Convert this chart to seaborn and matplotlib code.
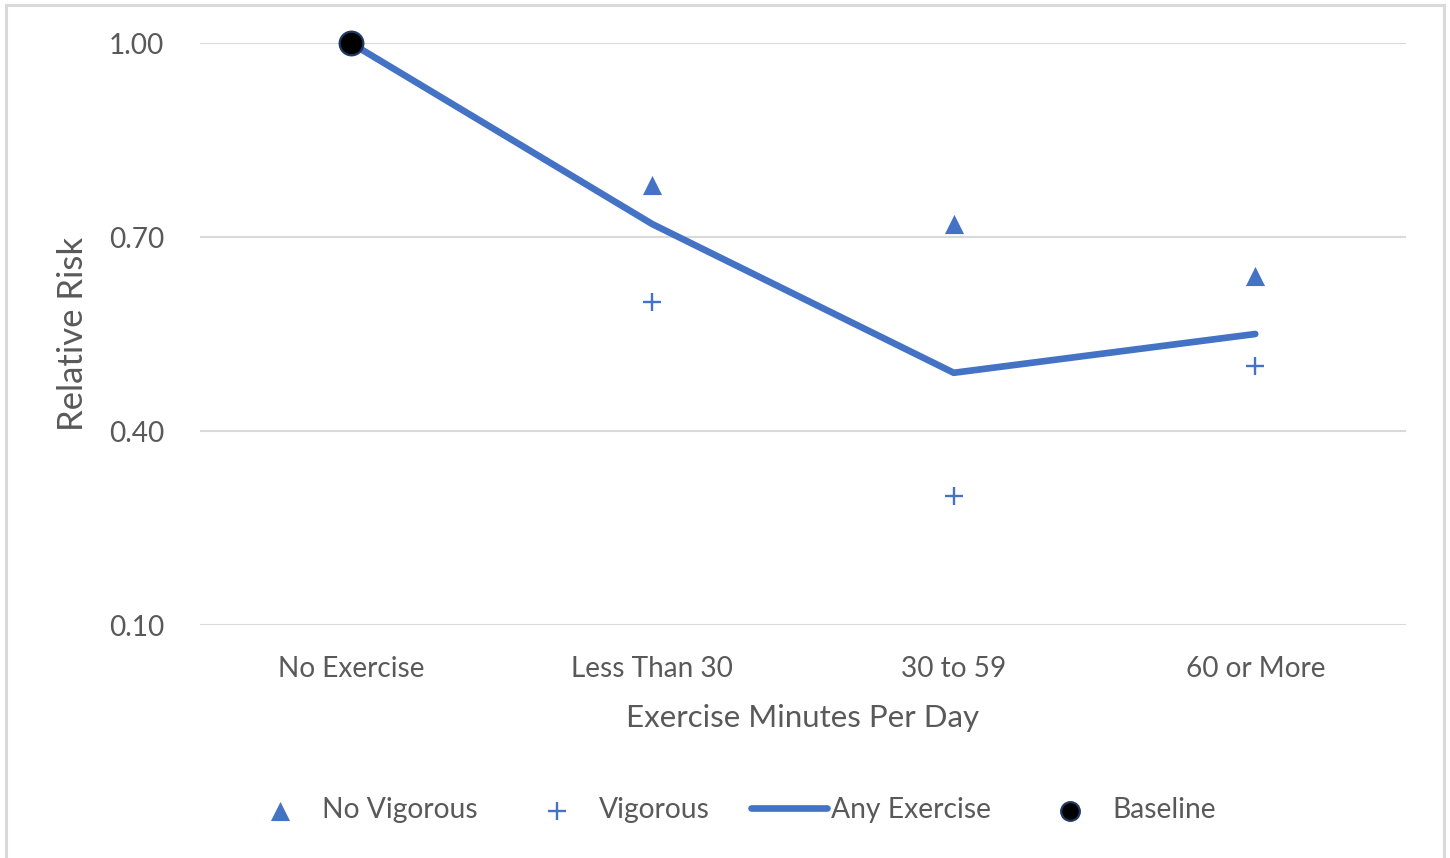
import matplotlib
matplotlib.use("Agg")
import matplotlib.pyplot as plt
from matplotlib.patches import Rectangle
import seaborn as sns
import pandas as pd

# Exercise categories and relative risk values
categories = ["No Exercise", "Less Than 30", "30 to 59", "60 or More"]
any_exercise = [1.00, 0.72, 0.49, 0.55]
no_vigorous_cats = ["Less Than 30", "30 to 59", "60 or More"]
no_vigorous = [0.78, 0.72, 0.64]
vigorous_cats = ["Less Than 30", "30 to 59", "60 or More"]
vigorous = [0.60, 0.30, 0.50]
baseline_cats = ["No Exercise"]
baseline = [1.00]
y_ticks = [0.10, 0.40, 0.70, 1.00]

blue = "#4472C4"
grid_grey = "#D9D9D9"
text_grey = "#595959"

sns.set_theme(style="white")
plt.rcParams["font.family"] = ["Lato", "DejaVu Sans"]

fig = plt.figure(figsize=(14.5, 8.58), dpi=100)
ax = fig.add_axes([200 / 1450, 1 - 625 / 858, 1206 / 1450, 582 / 858])

line_df = pd.DataFrame({"cat": categories, "rr": any_exercise})
nv_df = pd.DataFrame({"cat": no_vigorous_cats, "rr": no_vigorous})
v_df = pd.DataFrame({"cat": vigorous_cats, "rr": vigorous})
b_df = pd.DataFrame({"cat": baseline_cats, "rr": baseline})

sns.lineplot(data=line_df, x="cat", y="rr", ax=ax, color=blue, lw=4.8,
             solid_capstyle="round", label="Any Exercise", clip_on=False, zorder=3, sort=False)
sns.scatterplot(data=nv_df, x="cat", y="rr", ax=ax, marker="^", s=190, color=blue,
                edgecolor=blue, linewidth=0, label="No Vigorous", clip_on=False, zorder=4)
sns.scatterplot(data=v_df, x="cat", y="rr", ax=ax, marker="+", s=160, color=blue,
                linewidth=1.7, label="Vigorous", clip_on=False, zorder=4)
sns.scatterplot(data=b_df, x="cat", y="rr", ax=ax, marker="o", s=290, color="black",
                edgecolor="#1F3864", linewidth=1.6, label="Baseline", clip_on=False, zorder=5)

ax.set_xlim(-0.5, len(categories) - 0.5)
ax.set_ylim(0.10, 1.00)
ax.set_yticks(y_ticks)
ax.set_yticklabels([f"{v:.2f}" for v in y_ticks])
ax.yaxis.grid(True, color=grid_grey, lw=1.5)
ax.xaxis.grid(False)
for s in ax.spines.values():
    s.set_visible(False)
ax.tick_params(axis="y", length=0, pad=26, labelsize=20.2, labelcolor=text_grey)
ax.tick_params(axis="x", length=0, pad=22, labelsize=20.2, labelcolor=text_grey)

ax.set_xlabel("Exercise Minutes Per Day", fontsize=22.5, color=text_grey)
ax.set_ylabel("Relative Risk", fontsize=25, color=text_grey)
ax.xaxis.label.set_va("center")
ax.yaxis.label.set_va("center")
ax.xaxis.set_label_coords(0.5, -(718 - 625) / 582)
ax.yaxis.set_label_coords((73 - 200) / 1206, 0.5)

handles, labels = ax.get_legend_handles_labels()
ax.get_legend().remove()
order = ["No Vigorous", "Vigorous", "Any Exercise", "Baseline"]
lookup = dict(zip(labels, handles))
leg = fig.legend([lookup[k] for k in order], order, loc="center",
                 bbox_to_anchor=(729 / 1450, 1 - 810 / 858), ncol=4, frameon=False,
                 fontsize=20.3, handlelength=2.7, handletextpad=0.15, columnspacing=1.45,
                 scatterpoints=1)
for t in leg.get_texts():
    t.set_color(text_grey)
for h, name in zip(leg.legend_handles, order):
    if name == "Baseline":
        h.set_sizes([180])

# light frame around the chart area
fig.patches.append(Rectangle((6 / 1450, -0.02), 1438 / 1450, 1 - 5 / 858 + 0.02,
                             transform=fig.transFigure, fill=False,
                             edgecolor=grid_grey, lw=2.2))

fig.savefig("out.png", dpi=100)
